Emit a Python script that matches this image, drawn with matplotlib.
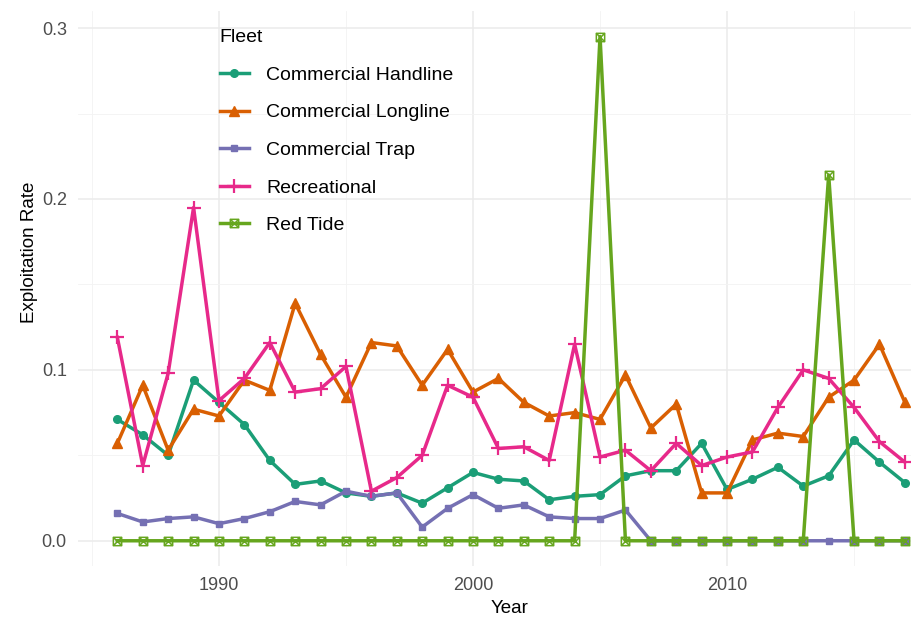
import matplotlib.pyplot as plt
from matplotlib.path import Path

plt.rcParams['font.family'] = ['Liberation Sans', 'DejaVu Sans']

# Data
years = list(range(1986, 2018))

handline = [0.071, 0.062, 0.050, 0.094, 0.081, 0.068, 0.047, 0.033, 0.035, 0.028,
            0.026, 0.028, 0.022, 0.031, 0.040, 0.036, 0.035, 0.024, 0.026, 0.027,
            0.038, 0.041, 0.041, 0.057, 0.030, 0.036, 0.043, 0.032, 0.038, 0.059,
            0.046, 0.034]
longline = [0.057, 0.091, 0.053, 0.077, 0.073, 0.094, 0.088, 0.139, 0.109, 0.084,
            0.116, 0.114, 0.091, 0.112, 0.087, 0.095, 0.081, 0.073, 0.075, 0.071,
            0.097, 0.066, 0.080, 0.028, 0.028, 0.059, 0.063, 0.061, 0.084, 0.094,
            0.115, 0.081]
trap = [0.016, 0.011, 0.013, 0.014, 0.010, 0.013, 0.017, 0.023, 0.021, 0.029,
        0.026, 0.028, 0.008, 0.019, 0.027, 0.019, 0.021, 0.014, 0.013, 0.013,
        0.018, 0.0, 0.0, 0.0, 0.0, 0.0, 0.0, 0.0, 0.0, 0.0,
        0.0, 0.0]
recreational = [0.119, 0.044, 0.098, 0.195, 0.082, 0.095, 0.116, 0.087, 0.089, 0.102,
                0.029, 0.037, 0.050, 0.091, 0.084, 0.054, 0.055, 0.047, 0.115, 0.049,
                0.053, 0.041, 0.057, 0.044, 0.049, 0.052, 0.078, 0.100, 0.095, 0.078,
                0.058, 0.046]
red_tide = [0.0] * 19 + [0.295] + [0.0] * 8 + [0.214] + [0.0] * 3

fleets = ["Commercial Handline", "Commercial Longline", "Commercial Trap",
          "Recreational", "Red Tide"]
colors = ["#1B9E77", "#D95F02", "#7570B3", "#E7298A", "#66A61E"]

# boxed-x marker like ggplot shape 7
box_x = Path([(-1, -1), (1, -1), (1, 1), (-1, 1), (-1, -1), (-1, -1), (1, 1), (-1, 1), (1, -1)],
             [Path.MOVETO, Path.LINETO, Path.LINETO, Path.LINETO, Path.CLOSEPOLY,
              Path.MOVETO, Path.LINETO, Path.MOVETO, Path.LINETO])

fig = plt.figure(figsize=(9.12, 6.17), dpi=100)
ax = fig.add_axes([0.0855, 0.0827, 0.9145, 0.8995])

lw = 2.5
ax.plot(years, handline, color=colors[0], lw=lw, marker='o', ms=5.5, label=fleets[0])
ax.plot(years, longline, color=colors[1], lw=lw, marker='^', ms=6.5, label=fleets[1])
ax.plot(years, trap, color=colors[2], lw=lw, marker='s', ms=5, label=fleets[2])
ax.plot(years, recreational, color=colors[3], lw=lw, marker='+', ms=10, mew=1.6, label=fleets[3])
ax.plot(years, red_tide, color=colors[4], lw=lw, marker=box_x, ms=6, mew=1.1,
        mfc='none', label=fleets[4])

ax.set_xlim(1984.45, 2017.28)
ax.set_ylim(-0.01475, 0.31)
ax.set_xticks([1990, 2000, 2010])
ax.set_xticks([1985, 1995, 2005, 2015], minor=True)
ax.set_yticks([0.0, 0.1, 0.2, 0.3])
ax.set_yticklabels(["0.0", "0.1", "0.2", "0.3"])
ax.set_yticks([0.05, 0.15, 0.25], minor=True)
ax.grid(True, which='major', color='#EBEBEB', lw=1.1)
ax.grid(True, which='minor', color='#F3F3F3', lw=0.6)
ax.set_axisbelow(True)
for s in ax.spines.values():
    s.set_visible(False)
ax.tick_params(which='both', length=0, labelsize=13, labelcolor='#4D4D4D', pad=8)

ax.set_xlabel("Year", fontsize=13.5)
ax.set_ylabel("Exploitation Rate", fontsize=13.5)
ax.xaxis.set_label_coords(0.518, -0.062)
ax.yaxis.set_label_coords(-0.048, 0.566)

leg = ax.legend(title="Fleet", loc='upper left', bbox_to_anchor=(0.149, 0.999),
                frameon=False, fontsize=14, title_fontsize=14, alignment='left',
                handlelength=1.5, handletextpad=0.9, labelspacing=1.03)

fig.savefig("out.png", dpi=100)
